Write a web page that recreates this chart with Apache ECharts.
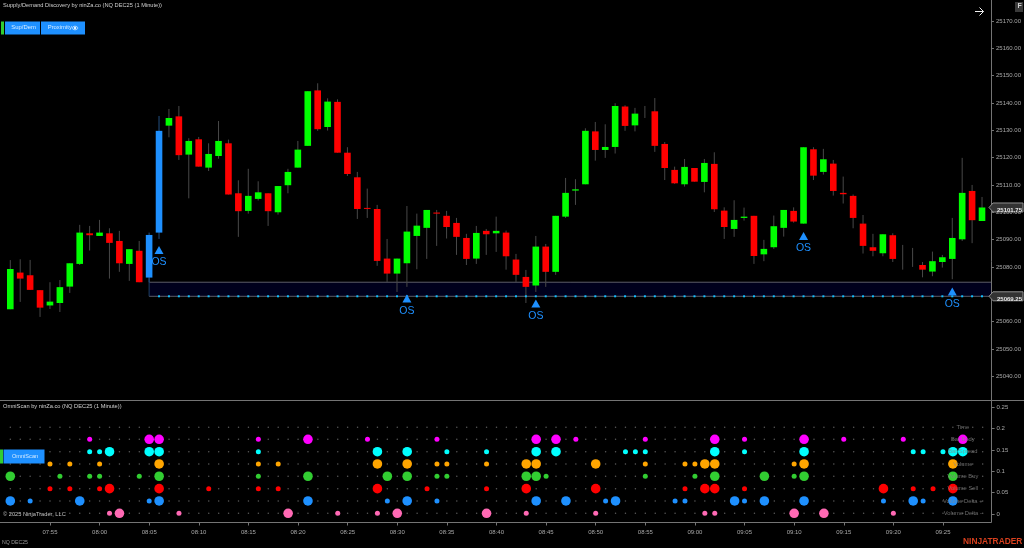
<!DOCTYPE html>
<html><head><meta charset="utf-8">
<style>html,body{margin:0;padding:0;background:#000;overflow:hidden}#c{width:1024px;height:548px}</style>
<script src="https://cdn.jsdelivr.net/npm/echarts@6/dist/echarts.min.js"></script>
</head><body><div id="c"></div>
<script>
var opens=[25064.5,25077.93,25076.95,25071.5,25065.9,25066.8,25072.8,25081.1,25092.3,25091.34,25092.3,25089.5,25081.1,25085.9,25076.1,25092.56,25131.7,25135.1,25121.1,25126.7,25116.34,25120.6,25125.24,25106.95,25100.5,25104.9,25106.95,25100,25109.9,25116.34,25124.3,25144.6,25131.2,25140.4,25121.8,25112.8,25101.6,25101.2,25083.05,25077.56,25081.34,25091.34,25094.3,25099.9,25098.7,25096.1,25090.6,25083.05,25093.2,25092.3,25092.56,25082.7,25076.34,25073.2,25087.44,25078.2,25098.4,25107.93,25110.24,25129.6,25122.8,25123.9,25138.7,25131.8,25136,25136.95,25125,25115.5,25110.24,25116.2,25111.1,25117.7,25100.6,25093.9,25097.93,25098.7,25084.6,25087.2,25094.3,25100.5,25095.85,25123.05,25114.76,25117.8,25107.1,25106,25095.85,25087.2,25085,25091.6,25084,25083,25080.7,25078.3,25081.8,25082.93,25090.1,25107.8,25096.8];
var closes=[25079.25,25075.73,25071.6,25065.1,25067.3,25072.6,25081.34,25092.56,25091.6,25092.56,25088.8,25081.34,25086.5,25074.4,25091.7,25129.8,25134.5,25120.9,25126.1,25116.7,25121.34,25126.1,25106.5,25100.4,25106,25107.3,25100.4,25109.6,25114.76,25122.93,25144.3,25130.4,25140.5,25121.8,25114,25101.2,25101.34,25082.2,25077.56,25083.05,25092.93,25095.1,25100.85,25099.5,25094.6,25091,25082.93,25092.44,25091.95,25093.2,25083.9,25077.1,25072.7,25087.44,25078.2,25098.7,25107.1,25108.4,25129.8,25122.8,25123.9,25138.9,25131.6,25136.1,25136,25124.3,25116.2,25110.6,25116.6,25111.2,25118.05,25101.1,25094.6,25097.2,25098.4,25084,25086.6,25094.9,25100.85,25096.6,25123.8,25113.4,25119.4,25107.8,25106.6,25097.93,25087.7,25085.9,25091.95,25082.93,25084,25083,25079,25082.1,25083.54,25090.6,25107.1,25097.1,25101.75];
var highs=[25082.5,25082.8,25082.56,25071.5,25074.4,25075.2,25081.34,25095.4,25095,25097.2,25094.15,25093.2,25086.5,25089.5,25092.56,25135.24,25137.8,25138.9,25127.1,25127.56,25125.24,25133.4,25126.6,25111.7,25115.9,25111.34,25106.95,25109.6,25115.9,25126.1,25144.3,25147.2,25141.7,25141.34,25123.8,25114.76,25108.66,25102.7,25090.24,25083.05,25102.3,25099.5,25100.85,25100.85,25100.5,25097.93,25092.1,25095,25093.9,25098.4,25093.3,25084.76,25078.9,25091.34,25088.4,25098.7,25112.56,25112.1,25130.73,25133.05,25132.2,25139.9,25139.15,25138.2,25138.9,25141.8,25125.7,25116.7,25119.5,25116.2,25119.5,25121.95,25101.8,25104.4,25101.7,25098.7,25089.9,25098.8,25100.85,25101.8,25123.8,25123.8,25123.2,25119.15,25113.05,25106.5,25099,25092.1,25091.95,25092.3,25088.05,25086.95,25081.8,25085.6,25084.4,25097.93,25119.9,25110,25105.6];
var lows=[25064.5,25067.2,25071.6,25061.7,25064.6,25063.5,25070.5,25080.7,25086,25091.34,25075.73,25078.2,25074.9,25074.4,25074.4,25090.24,25127.44,25119.15,25105.1,25116.7,25115.1,25119.6,25106.5,25091,25099.5,25104.3,25095,25099.15,25106.95,25116.34,25124.3,25129.8,25129.9,25121.8,25113.3,25097.56,25097.93,25080.4,25074.5,25070.85,25072.7,25079.15,25082.93,25087.7,25090.4,25084.4,25080.7,25081.1,25084.4,25085.5,25079,25074.5,25066.8,25070.85,25072.7,25077.1,25097.93,25102.7,25110.24,25118.9,25119.9,25121.5,25129.8,25129.6,25134.5,25122.1,25111.8,25110.4,25109.4,25111.2,25107.3,25100.1,25090.24,25091,25096.95,25081.1,25082.1,25086.6,25091.1,25096.2,25095.85,25111.8,25113.8,25106.1,25103.2,25094.15,25084.9,25083.9,25083.9,25081.8,25079,25080,25076.2,25076.6,25079.76,25075.5,25089.5,25088.7,25096.8];
var blueBars=['08:05','08:06'];
var priceTicks=[25170,25160,25150,25140,25130,25120,25110,25100,25090,25080,25070,25060,25050,25040];
var scanTicks=[0,0.05,0.1,0.15,0.2,0.25];
var priceTags=[25101.75,25069.25];
var zoneHigh=25074.4, zoneLow=25069.25, zoneStart='08:05';
var osTimes=['08:06','08:31','08:44','09:11','09:26'];
var osPrices=[25086.2,25068.4,25066.6,25091.3,25071];
var rowNames=['Time','Bar Body','Bar Spread','Volume','Volume Buy','Volume Sell','Volume Delta +','Volume Delta -'];
var rowLevels=[0.2032,0.175,0.146,0.1172,0.0884,0.0593,0.0305,0.0016];
var bodyBig=['08:05','08:06','08:21','08:44','08:46','09:02','09:11','09:27'];
var bodySmall=['07:59','08:16','08:27','08:34','08:48','08:55','09:05','09:15','09:21'];
var spreadBig=['08:01','08:05','08:06','08:28','08:31','08:44','08:46','09:02','09:11','09:26','09:27'];
var spreadSmall=['07:59','08:00','08:16','08:35','08:39','08:53','08:54','08:55','09:05','09:22','09:23','09:25'];
var volumeBig=['08:06','08:28','08:31','08:43','08:44','08:50','09:01','09:02','09:11','09:26'];
var volumeSmall=['07:55','07:57','08:00','08:16','08:18','08:34','08:35','08:39','08:55','08:59','09:00','09:10'];
var buyBig=['07:51','08:06','08:21','08:29','08:31','08:43','08:44','09:02','09:07','09:11','09:26'];
var buySmall=['07:56','07:59','08:00','08:04','08:16','08:34','08:35','08:45','08:55','09:00','09:10'];
var sellBig=['08:01','08:06','08:28','08:43','08:50','09:01','09:02','09:19','09:26'];
var sellSmall=['07:55','07:57','08:00','08:11','08:16','08:18','08:33','08:39','08:59','09:05','09:22','09:24'];
var plusBig=['07:51','07:58','08:06','08:21','08:31','08:44','08:47','08:52','09:04','09:07','09:11','09:22','09:26'];
var plusSmall=['07:53','08:05','08:29','08:34','08:51','08:58','08:59','09:05','09:19','09:23'];
var minusBig=['08:02','08:19','08:30','08:39','09:10','09:13'];
var minusSmall=['08:01','08:08','08:24','08:28','08:43','08:50','09:01','09:02','09:20'];
var rowColors=[null,'#FF00FF','#00FFFF','#FFA500','#32CD32','#FF0000','#1E90FF','#FF69B4'];

var times=[];
for(var m=7*60+51;m<=9*60+29;m++){var h=Math.floor(m/60),n=m%60;times.push((h<10?'0':'')+h+':'+(n<10?'0':'')+n);}
var font='"Liberation Sans",Arial,sans-serif';
var axisGray='#747474', labelGray='#a8a8a8';
var chart=echarts.init(document.getElementById('c'),null,{renderer:'canvas',width:1024,height:548});

function fmt5(i,v){return parseInt(v.slice(3),10)%5===0;}
var series=[];
series.push({type:'custom',xAxisIndex:0,yAxisIndex:0,clip:false,silent:true,z:1,data:[[zoneStart,zoneHigh,zoneLow]],
 renderItem:function(p,api){
  var a=api.coord([api.value(0),api.value(1)]),b=api.coord([api.value(0),api.value(2)]);
  var r=991;
  return {type:'group',children:[
   {type:'rect',shape:{x:a[0],y:a[1],width:r-a[0],height:b[1]-a[1]},style:{fill:'#00001c'}},
   {type:'line',shape:{x1:a[0],y1:a[1],x2:r,y2:a[1]},style:{stroke:'#5c5c68',lineWidth:1}},
   {type:'line',shape:{x1:a[0],y1:b[1],x2:r,y2:b[1]},style:{stroke:'#5c5c68',lineWidth:1}},
   {type:'line',shape:{x1:a[0],y1:a[1]-4,x2:a[0],y2:b[1]},style:{stroke:'#1d3f66',lineWidth:1}}
  ]};
 },encode:{x:0,y:[1,2]}});
series.push({type:'custom',name:'price',xAxisIndex:0,yAxisIndex:0,z:3,silent:true,
 data:times.map(function(t,i){return [t,opens[i],highs[i],lows[i],closes[i]];}),
 encode:{x:0,y:[1,2,3,4]},
 renderItem:function(p,api){
  var i=api.value(0),o=api.value(1),hi=api.value(2),lo=api.value(3),c=api.value(4);
  var x=api.coord([i,o])[0],yo=api.coord([i,o])[1],yh=api.coord([i,hi])[1],yl=api.coord([i,lo])[1],yc=api.coord([i,c])[1];
  var blue=blueBars.indexOf(times[i])>=0;
  var col=blue?'#1E90FF':(c>=o?'#00FF00':'#FF0000');
  var kids=[{type:'line',shape:{x1:x,y1:yh,x2:x,y2:yl},style:{stroke:blue?'#234f80':'#484848',lineWidth:1}}];
  if(o!==c){var t=Math.min(yo,yc),hh=Math.max(Math.abs(yo-yc),1);
   kids.push({type:'rect',shape:{x:x-3.3,y:t,width:6.6,height:hh},style:{fill:col}});}
  return {type:'group',children:kids};
 }});
series.push({type:'scatter',xAxisIndex:0,yAxisIndex:0,z:4,silent:true,symbol:'rect',symbolSize:[2,2],itemStyle:{color:'#10C0FF',opacity:1},
 data:times.slice(times.indexOf(zoneStart)+1).map(function(t){return [t,zoneLow];})});
series.push({type:'scatter',xAxisIndex:0,yAxisIndex:0,z:5,silent:true,symbol:'triangle',symbolSize:[9,8],itemStyle:{color:'#1E90FF',opacity:1},
 data:osTimes.map(function(t,i){return [t,osPrices[i]];}),
 label:{show:true,position:'bottom',distance:3,formatter:'OS',color:'#1E90FF',fontSize:10.5,fontFamily:font}});
rowLevels.forEach(function(v){
 series.push({type:'scatter',xAxisIndex:1,yAxisIndex:1,z:2,silent:true,symbolSize:1.5,itemStyle:{color:'#5a5a5a',opacity:1},
  data:times.map(function(t){return [t,v];})});
});
var rowBig=[[],bodyBig,spreadBig,volumeBig,buyBig,sellBig,plusBig,minusBig];
var rowSmall=[[],bodySmall,spreadSmall,volumeSmall,buySmall,sellSmall,plusSmall,minusSmall];
rowLevels.forEach(function(v,k){
 if(!rowColors[k])return;
 series.push({type:'scatter',xAxisIndex:1,yAxisIndex:1,z:3,silent:true,symbolSize:9.6,itemStyle:{color:rowColors[k],opacity:1},
  data:rowBig[k].map(function(t){return [t,v];})});
 series.push({type:'scatter',xAxisIndex:1,yAxisIndex:1,z:3,silent:true,symbolSize:5,itemStyle:{color:rowColors[k],opacity:1},
  data:rowSmall[k].map(function(t){return [t,v];})});
});
series.push({type:'scatter',xAxisIndex:1,yAxisIndex:1,z:6,silent:true,symbolSize:0,
 data:rowLevels.map(function(v,k){return {value:['09:27',v],name:rowNames[k]};}),
 label:{show:true,position:'inside',formatter:'{b}',color:'#868686',fontSize:5.8,fontFamily:font}});
series.push({type:'custom',xAxisIndex:0,yAxisIndex:0,clip:false,silent:true,z:20,data:priceTags.map(function(v,i){return [times[times.length-1],v];}),
 encode:{x:0,y:1},
 renderItem:function(p,api){
  var v=api.value(1),y=api.coord([api.value(0),v])[1];
  return {type:'group',z2:50,children:[
   {type:'polygon',shape:{points:[[989,y],[993,y-4.5],[1023,y-4.5],[1023,y+4.5],[993,y+4.5]]},style:{fill:'#333333',stroke:'#8f8f8f',lineWidth:1}},
   {type:'text',style:{x:997,y:y,text:v.toFixed(2),fill:'#e6e6e6',font:'bold 6px '+font,textBaseline:'middle',textAlign:'left'}}
  ]};
 }});

function txt(x,y,s,fill,size,extra){return {type:'text',left:x,top:y-size/2-0.5,silent:true,z:30,style:{text:s,fill:fill,font:(extra||'')+' '+size+'px '+font,textVerticalAlign:'top'}};}
var gfx=[
 {type:'line',silent:true,z:10,shape:{x1:0,y1:400.5,x2:1024,y2:400.5},style:{stroke:axisGray,lineWidth:1}},
 {type:'line',silent:true,z:10,shape:{x1:0,y1:522.5,x2:991.5,y2:522.5},style:{stroke:axisGray,lineWidth:1}},
 {type:'line',silent:true,z:10,shape:{x1:991.5,y1:0,x2:991.5,y2:522.5},style:{stroke:axisGray,lineWidth:1}},
 {type:'rect',silent:true,z:30,shape:{x:1,y:21.5,width:3,height:13},style:{fill:'#32CD32'}},
 {type:'rect',silent:true,z:30,shape:{x:5,y:21.5,width:35,height:13},style:{fill:'#1E90FF'}},
 {type:'rect',silent:true,z:30,shape:{x:41,y:21.5,width:44,height:13},style:{fill:'#1E90FF'}},
 {type:'rect',silent:true,z:30,shape:{x:0,y:449.5,width:3,height:14},style:{fill:'#32CD32'}},
 {type:'rect',silent:true,z:30,shape:{x:3.5,y:449.5,width:41,height:14},style:{fill:'#1E90FF'}},
 {type:'circle',silent:true,z:31,shape:{cx:75,cy:28,r:1.3},style:{fill:'#dff0ff'}},
 {type:'ellipse',silent:true,z:31,shape:{cx:75,cy:28,rx:2.8,ry:1.8},style:{fill:'none',stroke:'#dff0ff',lineWidth:0.7}},
 {type:'polyline',silent:true,z:30,shape:{points:[[975,11.5],[983.5,11.5]]},style:{stroke:'#f0f0f0',lineWidth:1,fill:'none'}},
 {type:'polyline',silent:true,z:30,shape:{points:[[979.5,7.5],[983.5,11.5],[979.5,15.5]]},style:{stroke:'#f0f0f0',lineWidth:1,fill:'none'}},
 {type:'rect',silent:true,z:30,shape:{x:1015,y:2,width:8,height:10},style:{fill:'#3a3a3a'}},
 txt(1017.5,7,'F','#cfcfcf',7,'bold'),
 txt(3,6,'Supply/Demand Discovery by ninZa.co (NQ DEC25 (1 Minute))','#d0d0d0',5.7),
 txt(3,407,'OmniScan by ninZa.co (NQ DEC25 (1 Minute))','#d0d0d0',5.7),
 txt(11.3,28,'Sup/Dem','#d6ebff',5.9),
 txt(47.7,28,'Proximity','#d6ebff',5.9),
 txt(12,456.5,'OmniScan','#d6ebff',5.6),
 txt(3,515,'\u00A9 2025 NinjaTrader, LLC','#c0c0c0',5.7),
 txt(2,543,'NQ DEC25','#9a9a9a',5.2),
 txt(963,542.5,'NINJATRADER','#D8401E',8.4,'bold')
];

chart.setOption({
 animation:false,backgroundColor:'#000',
 grid:[{left:5.34,top:0,width:982.28,height:400,containLabel:false},{left:5.34,top:401,width:982.28,height:121.5,containLabel:false}],
 xAxis:[
  {type:'category',gridIndex:0,data:times,min:0,max:98,axisLine:{show:false,onZero:false},axisTick:{show:false},axisLabel:{show:false},splitLine:{show:false}},
  {type:'category',gridIndex:1,data:times,axisLine:{show:false,onZero:false},
   axisTick:{show:true,alignWithLabel:true,interval:fmt5,length:3,lineStyle:{color:axisGray}},
   axisLabel:{interval:fmt5,color:labelGray,fontSize:6,fontFamily:font,margin:6.5},splitLine:{show:false}}
 ],
 yAxis:[
  {type:'value',gridIndex:0,position:'right',offset:4,min:25031.3,max:25177.68,scale:true,splitLine:{show:false},
   axisLine:{show:false},axisTick:{show:true,length:3,lineStyle:{color:axisGray},customValues:priceTicks},
   axisLabel:{color:labelGray,fontSize:6,fontFamily:font,margin:5,customValues:priceTicks,formatter:function(v){return v.toFixed(2);}}},
  {type:'value',gridIndex:1,position:'right',offset:4,min:-0.02,max:0.2648,splitLine:{show:false},
   axisLine:{show:false},axisTick:{show:true,length:3,lineStyle:{color:axisGray},customValues:scanTicks},
   axisLabel:{color:labelGray,fontSize:6,fontFamily:font,margin:5,customValues:scanTicks,formatter:function(v){return String(+v.toFixed(2));}}}
 ],
 series:series,
 graphic:{elements:gfx}
});
</script></body></html>
